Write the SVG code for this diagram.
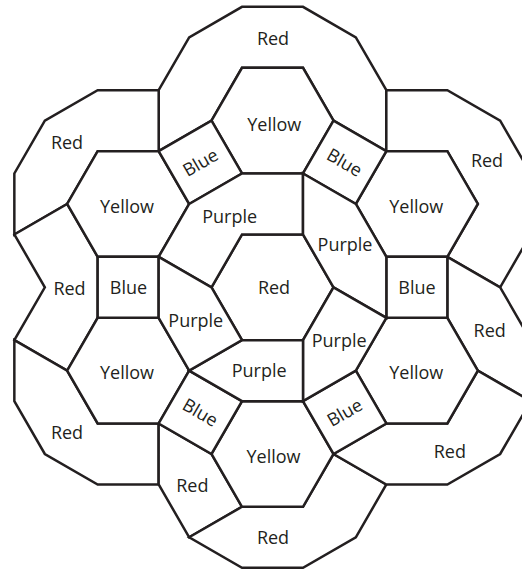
<svg xmlns="http://www.w3.org/2000/svg" width="522" height="571" viewBox="0 0 522 571">
<style>
.r{fill:#fff;stroke:#231f20;stroke-width:2.5;stroke-linejoin:miter;stroke-miterlimit:10}
text{font-family:"Open Sans","Noto Sans","Liberation Sans",sans-serif;font-size:18px;fill:#231f20;text-anchor:middle}
</style>
<rect width="522" height="571" fill="#fff"/>
<g id="red-top"><polygon class="r" points="158.67,90.14 189.17,37.32 242,6.82 303,6.82 355.83,37.32 386.33,90.14 386.33,151.14 333.5,120.64 303,67.82 242,67.82 211.5,120.64 158.67,151.14"/><text x="273" y="45">Red</text></g>
<g id="red-topleft"><polygon class="r" points="158.67,90.14 97.67,90.14 44.84,120.64 14.34,173.47 14.34,234.47 67.17,203.97 97.67,151.14 158.67,151.14"/><text x="67" y="149">Red</text></g>
<g id="red-topright"><polygon class="r" points="386.33,90.14 447.33,90.14 500.16,120.64 530.66,173.47 530.66,234.47 500.16,287.3 447.33,256.8 477.83,203.97 447.33,151.14 386.33,151.14"/><text x="487" y="166.7">Red</text></g>
<g id="red-left"><polygon class="r" points="14.34,234.47 67.17,203.97 97.67,256.8 97.67,317.8 67.17,370.63 14.34,340.13 44.84,287.3"/><text x="69.5" y="295">Red</text></g>
<g id="red-right"><polygon class="r" points="447.33,256.8 500.16,287.3 530.66,340.13 530.66,401.13 477.83,370.63 447.33,317.8"/><text x="489.7" y="337.3">Red</text></g>
<g id="red-bottomleft"><polygon class="r" points="14.34,340.13 67.17,370.63 97.67,423.46 158.67,423.46 158.67,484.46 97.67,484.46 44.84,453.96 14.34,401.13"/><text x="67" y="439.3">Red</text></g>
<g id="red-small"><polygon class="r" points="158.67,423.46 211.5,453.96 242,506.78 189.17,537.28 158.67,484.46"/><text x="192.3" y="491.7">Red</text></g>
<g id="red-bottom"><polygon class="r" points="189.17,537.28 242,506.78 303,506.78 333.5,453.96 386.33,484.46 355.83,537.28 303,567.78 242,567.78"/><text x="273" y="543.5">Red</text></g>
<g id="red-bottomright"><polygon class="r" points="333.5,453.96 386.33,423.46 447.33,423.46 477.83,370.63 530.66,401.13 500.16,453.96 447.33,484.46 386.33,484.46"/><text x="449.8" y="457.7">Red</text></g>
<g id="red-center"><polygon class="r" points="333.5,287.3 303,234.47 242,234.47 211.5,287.3 242,340.13 303,340.13"/><text x="274" y="293.5">Red</text></g>
<g id="yellow-top"><polygon class="r" points="333.5,120.64 303,67.82 242,67.82 211.5,120.64 242,173.47 303,173.47"/><text x="274.3" y="130.7">Yellow</text></g>
<g id="yellow-ul"><polygon class="r" points="189.17,203.97 158.67,151.14 97.67,151.14 67.17,203.97 97.67,256.8 158.67,256.8"/><text x="127" y="213.3">Yellow</text></g>
<g id="yellow-ur"><polygon class="r" points="477.83,203.97 447.33,151.14 386.33,151.14 355.83,203.97 386.33,256.8 447.33,256.8"/><text x="416.3" y="213.3">Yellow</text></g>
<g id="yellow-dl"><polygon class="r" points="189.17,370.63 158.67,317.8 97.67,317.8 67.17,370.63 97.67,423.46 158.67,423.46"/><text x="127" y="379">Yellow</text></g>
<g id="yellow-dr"><polygon class="r" points="477.83,370.63 447.33,317.8 386.33,317.8 355.83,370.63 386.33,423.46 447.33,423.46"/><text x="416.3" y="379">Yellow</text></g>
<g id="yellow-bottom"><polygon class="r" points="333.5,453.96 303,401.13 242,401.13 211.5,453.96 242,506.78 303,506.78"/><text x="273.5" y="462.5">Yellow</text></g>
<g id="blue-ul"><polygon class="r" points="158.67,151.14 211.5,120.64 242,173.47 189.17,203.97"/><text x="200.3" y="168.8" transform="rotate(-30 200.3 162.3)">Blue</text></g>
<g id="blue-ur"><polygon class="r" points="333.5,120.64 386.33,151.14 355.83,203.97 303,173.47"/><text x="344.7" y="168.8" transform="rotate(30 344.7 162.3)">Blue</text></g>
<g id="blue-left"><polygon class="r" points="97.67,256.8 158.67,256.8 158.67,317.8 97.67,317.8"/><text x="128.5" y="294">Blue</text></g>
<g id="blue-right"><polygon class="r" points="386.33,256.8 447.33,256.8 447.33,317.8 386.33,317.8"/><text x="417" y="294">Blue</text></g>
<g id="blue-dl"><polygon class="r" points="189.17,370.63 242,401.13 211.5,453.96 158.67,423.46"/><text x="200.3" y="418.8" transform="rotate(30 200.3 412.3)">Blue</text></g>
<g id="blue-dr"><polygon class="r" points="303,401.13 355.83,370.63 386.33,423.46 333.5,453.96"/><text x="344.7" y="418.8" transform="rotate(-30 344.7 412.3)">Blue</text></g>
<g id="purple-1"><polygon class="r" points="189.17,203.97 242,173.47 303,173.47 303,234.47 242,234.47 211.5,287.3 158.67,256.8"/><text x="229.7" y="223.3">Purple</text></g>
<g id="purple-2"><polygon class="r" points="303,173.47 355.83,203.97 386.33,256.8 386.33,317.8 333.5,287.3 303,234.47"/><text x="345" y="251">Purple</text></g>
<g id="purple-3"><polygon class="r" points="333.5,287.3 386.33,317.8 355.83,370.63 303,401.13 303,340.13"/><text x="339.2" y="346.7">Purple</text></g>
<g id="purple-4"><polygon class="r" points="242,340.13 303,340.13 303,401.13 242,401.13 189.17,370.63"/><text x="259.2" y="376.7">Purple</text></g>
<g id="purple-5"><polygon class="r" points="158.67,256.8 211.5,287.3 242,340.13 189.17,370.63 158.67,317.8"/><text x="195.8" y="326.7">Purple</text></g>
<g id="connectors"/>
</svg>
